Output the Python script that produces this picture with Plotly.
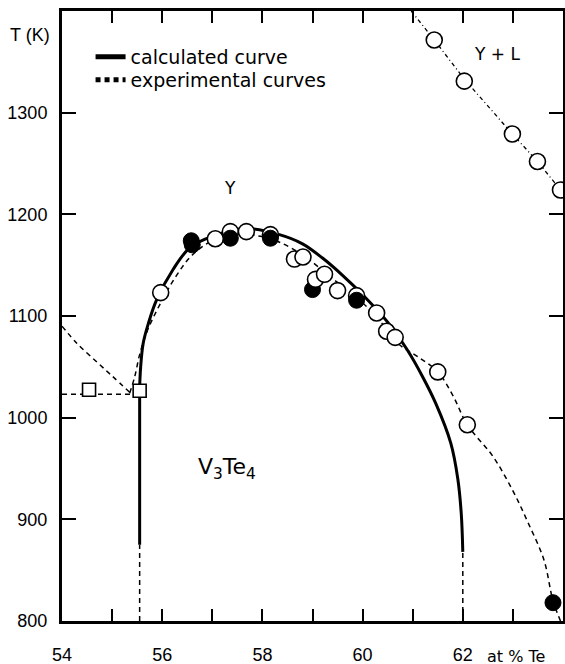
import plotly.graph_objects as go

# ---------------- data ----------------
# calculated (solid) curve
calc_vert_x = [55.55, 55.55]
calc_vert_T = [875, 1030]
calc_x = [55.55, 55.57, 55.62, 55.72, 55.89, 56.22, 56.55, 57.01, 57.68, 58.34,
          58.8, 59.2, 59.6, 60.04, 60.5, 60.9, 61.2, 61.46, 61.76, 61.9, 61.97, 62.0]
calc_T = [1030, 1050, 1073, 1092, 1116, 1146, 1167, 1178.5, 1186, 1180,
          1171, 1157, 1140, 1119, 1094, 1066, 1040, 1014, 975, 940, 905, 868]

# experimental (dashed) curves
exp_x = [55.35, 55.45, 55.55, 55.7, 55.95, 56.3, 56.6, 57.0, 57.5, 58.0, 58.37,
         58.8, 59.2, 59.67, 60.0, 60.4, 60.73, 61.1, 61.5, 61.8, 62.09, 62.6,
         63.0, 63.3, 63.62, 63.8, 63.95]
exp_T = [1024, 1040, 1062, 1085, 1111, 1141, 1160, 1174, 1180, 1178, 1172,
         1160, 1145, 1126, 1113, 1092, 1072, 1060, 1045, 1022, 993, 962,
         928, 897, 860, 820, 800]
left_x = [54.0, 54.3, 54.69, 55.0, 55.35]
left_T = [1090, 1073, 1055, 1041, 1025]
hline_x = [54.0, 55.5]
hline_T = [1023, 1023]
vdash1_x = [55.55, 55.55]
vdash1_T = [800, 875]
vdash2_x = [62.0, 62.0]
vdash2_T = [800, 868]

# measured points
open_back_x = [57.36, 58.16, 59.88]
open_back_T = [1183, 1180, 1120]
filled_x = [56.58, 56.6, 57.36, 58.16, 59.0, 59.88, 63.8]
filled_T = [1174, 1170, 1176.5, 1176.5, 1126, 1115.5, 818]
open_x = [55.97, 57.06, 57.68, 58.64, 58.81, 59.06, 59.24, 59.5, 60.28, 60.48,
          60.65, 61.5, 62.09]
open_T = [1123, 1176, 1183, 1156, 1158, 1136, 1141, 1125, 1103, 1085,
          1079, 1045, 993]
sq_x = [54.54, 55.55]
sq_T = [1027.5, 1026.5]

# Y + L boundary
yl_line_x = [60.97, 61.43, 62.03, 62.99, 63.49, 63.95, 64.05]
yl_line_T = [1400, 1371.5, 1333, 1279, 1252, 1224, 1218]
yl_x = [61.43, 62.03, 62.99, 63.49, 63.95]
yl_T = [1371.5, 1331, 1279, 1252, 1224]

# ticks
x_tick_vals = [54, 56, 58, 60, 62]
x_tick_text = ["54", "56", "58", "60", "62"]
x_minor_vals = [55, 57, 59, 61, 63]
y_tick_vals = [800, 900, 1000, 1100, 1200, 1300]
y_tick_text = ["800", "900", "1000", "1100", "1200", "1300"]

FONT = "Liberation Sans, Arial, sans-serif"
TEXT_FONT = "DejaVu Sans, sans-serif"
BLACK = "black"

fig = go.Figure()

dash_style = dict(color=BLACK, width=1.5, dash="5px,4px")

# experimental lines
fig.add_trace(go.Scatter(x=exp_x, y=exp_T, mode="lines", line=dash_style,
                         line_shape="spline", name="experimental curves",
                         showlegend=False, hoverinfo="skip"))
for xs, ts in [(left_x, left_T), (hline_x, hline_T), (vdash1_x, vdash1_T), (vdash2_x, vdash2_T)]:
    fig.add_trace(go.Scatter(x=xs, y=ts, mode="lines", line=dash_style,
                             line_shape="spline", showlegend=False, hoverinfo="skip"))

# Y+L dotted line
fig.add_trace(go.Scatter(x=yl_line_x, y=yl_line_T, mode="lines",
                         line=dict(color=BLACK, width=1.3, dash="4px,3px,1px,3px"),
                         showlegend=False, hoverinfo="skip"))

# calculated curve
solid = dict(color=BLACK, width=3)
fig.add_trace(go.Scatter(x=calc_vert_x, y=calc_vert_T, mode="lines", line=solid,
                         showlegend=False, hoverinfo="skip"))
fig.add_trace(go.Scatter(x=calc_x, y=calc_T, mode="lines", line=solid,
                         line_shape="spline", showlegend=False, hoverinfo="skip"))

# legend entries (two single-entry legends for exact row placement)
fig.add_trace(go.Scatter(x=[None], y=[None], mode="lines", line=solid,
                         name="calculated curve", legend="legend"))
fig.add_trace(go.Scatter(x=[None], y=[None], mode="lines", line=dash_style,
                         name="experimental curves", legend="legend2"))

open_marker = dict(symbol="circle", size=16, color="white",
                   line=dict(color=BLACK, width=1.6))
filled_marker = dict(symbol="circle", size=16, color=BLACK,
                     line=dict(color=BLACK, width=1))

fig.add_trace(go.Scatter(x=open_back_x, y=open_back_T, mode="markers",
                         marker=open_marker, showlegend=False))
fig.add_trace(go.Scatter(x=filled_x, y=filled_T, mode="markers",
                         marker=filled_marker, showlegend=False))
fig.add_trace(go.Scatter(x=open_x, y=open_T, mode="markers",
                         marker=open_marker, showlegend=False))
fig.add_trace(go.Scatter(x=yl_x, y=yl_T, mode="markers",
                         marker=open_marker, showlegend=False))
fig.add_trace(go.Scatter(x=sq_x, y=sq_T, mode="markers",
                         marker=dict(symbol="square", size=13, color="white",
                                     line=dict(color=BLACK, width=1.6)),
                         showlegend=False))

legend_common = dict(xanchor="left", yanchor="middle",
                     bgcolor="rgba(0,0,0,0)", font=dict(family=TEXT_FONT, size=19),
                     itemsizing="constant")

fig.update_layout(
    width=565, height=664,
    margin=dict(l=62, r=2, t=11, b=43, autoexpand=False),
    paper_bgcolor="white", plot_bgcolor="white",
    font=dict(family=FONT, size=18, color=BLACK),
    legend=dict(x=0.057, y=0.9246, **legend_common),
    legend2=dict(x=0.057, y=0.8869, **legend_common),
    showlegend=True,
)

fig.update_xaxes(range=[54, 64], showgrid=False, zeroline=False, automargin=False,
                 showline=True, linecolor=BLACK, linewidth=3, mirror="ticks",
                 ticks="inside", ticklen=12, tickwidth=2, tickcolor=BLACK,
                 tickvals=x_tick_vals, ticktext=x_tick_text,
                 minor=dict(tickvals=x_minor_vals, ticks="inside", ticklen=12,
                            tickwidth=2, tickcolor=BLACK, showgrid=False),
                 ticklabelstandoff=15, tickfont=dict(size=18))
fig.update_yaxes(range=[800, 1400], showgrid=False, zeroline=False, automargin=False,
                 showline=True, linecolor=BLACK, linewidth=3, mirror="ticks",
                 ticks="inside", ticklen=14, tickwidth=2, tickcolor=BLACK,
                 tickvals=y_tick_vals, ticktext=y_tick_text,
                 ticklabelstandoff=8, tickfont=dict(size=18))

fig.add_annotation(text="T (K)", xref="paper", yref="paper", x=-0.02, y=0.96,
                   xanchor="right", yanchor="middle", showarrow=False,
                   font=dict(size=18))
fig.add_annotation(text="at % Te", xref="paper", yref="paper", x=0.845, y=-0.058,
                   xanchor="left", yanchor="middle", showarrow=False,
                   font=dict(family=TEXT_FONT, size=16))
fig.add_annotation(text="Y", x=57.36, y=1226, showarrow=False,
                   font=dict(family=TEXT_FONT, size=17))
fig.add_annotation(text="Y + L", x=62.69, y=1358, showarrow=False,
                   font=dict(family=TEXT_FONT, size=17))
fig.add_annotation(text="V<sub>3</sub>Te<sub>4</sub>", x=57.3, y=950,
                   showarrow=False, font=dict(family=TEXT_FONT, size=22))

fig.write_html("out.html", config={"displayModeBar": False},
               post_script="document.body.style.margin='0';document.body.style.overflow='hidden';")
